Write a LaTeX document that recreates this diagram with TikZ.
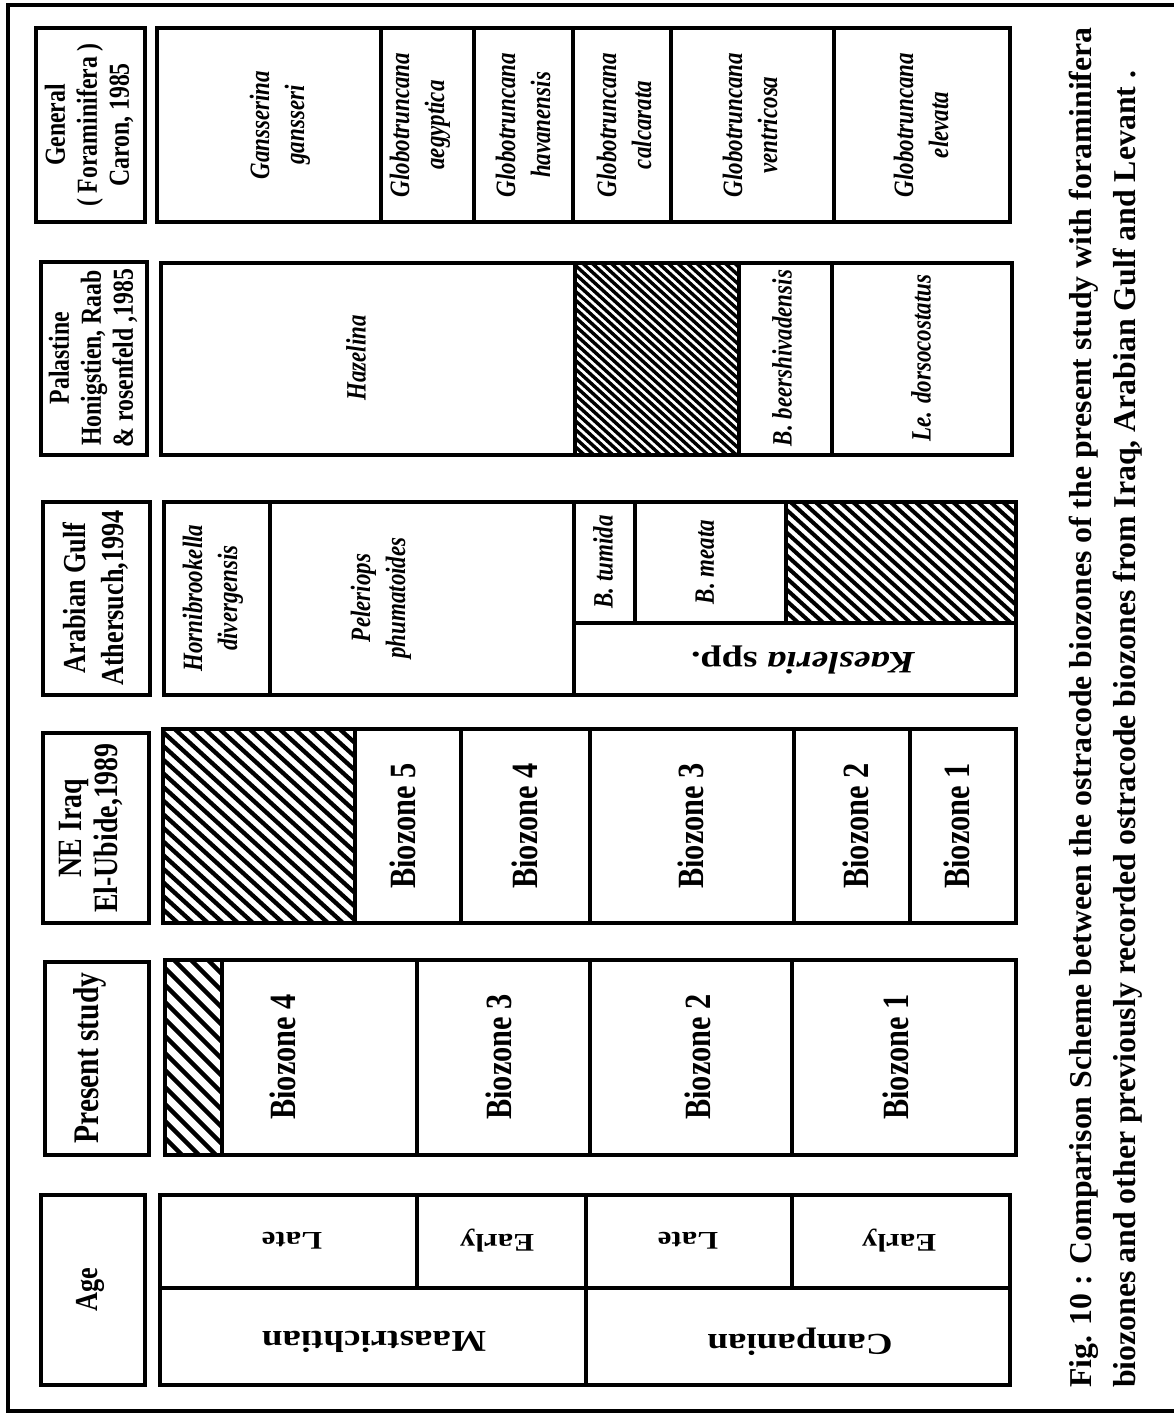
\documentclass[tikz,border=0pt]{standalone}
\usepackage{fontspec}
\setmainfont{Liberation Serif}
\newcommand\fsz[2]{\fontsize{#1}{#2}\selectfont}
\newcommand\hatchzone[7]{%
 \begin{scope}
 \clip (#1,#2) rectangle (#3,#4);
 \pgfmathsetmacro\hzrun{(#4-#2)*#7}
 \pgfmathtruncatemacro\hzn{(#3-#1+\hzrun)/#5+2}
 \foreach \k in {0,...,\hzn}{
   \pgfmathsetmacro\hzx{#1-\hzrun+\k*#5}
   \draw[line width=#6] (\hzx,#2) -- (\hzx+\hzrun,#4);
 }
 \end{scope}}
\tikzset{
 ln/.style={line width=4.5pt},
 vt/.style={yscale=0.82, rotate=90, align=center, inner sep=0pt},
 ut/.style={yscale=0.82, rotate=180, align=center, inner sep=0pt},
 bz/.style={vt, font=\fsz{37}{44}\bfseries},
 spc/.style={vt, font=\fsz{28}{35}\bfseries\itshape},
 agetxt/.style={ut, font=\fsz{31}{36}\bfseries},
 stagetxt/.style={ut, font=\fsz{37}{42}\bfseries},
 captxt/.style={rotate=90, anchor=west, inner sep=0pt, font=\fsz{31.8}{38}\bfseries},
}
\begin{document}
\begin{tikzpicture}[x=1pt, y=-1pt]
\useasboundingbox (0,0) rectangle (1174,1414);
% outer frame
\draw[line width=4.5pt] (1190,5) -- (8,5) -- (8,1411) -- (1190,1411);

% hatches
\hatchzone{575}{263}{739}{455}{9.5}{3.4pt}{1.1}
\hatchzone{786}{502}{1016}{623}{12.5}{4pt}{1.1}
\hatchzone{163}{729}{355}{923}{15}{4.3pt}{1.1}
\hatchzone{165}{960}{222}{1155}{17}{4.5pt}{1.0}

% ---- Row: General / Caron
\draw[ln] (36,28) rectangle (145,222);
\draw[ln] (157,28) rectangle (1010,222);
\foreach \xx in {381,474,573,671,834} \draw[ln] (\xx,28) -- (\xx,222);
\node[vt, font=\fsz{29}{32}\bfseries] (hC) at (89,125) {General\\( Foraminifera )\\Caron, 1985};
\node[spc] (c1) at (280,125) {Gansserina\\gansseri};
\node[spc] (c2) at (420,125) {Globotruncana\\aegyptica};
\node[spc] (c3) at (523,125) {Globotruncana\\havanensis};
\node[spc] (c4) at (624,125) {Globotruncana\\calcarata};
\node[spc] (c5) at (750,125) {Globotruncana\\ventricosa};
\node[spc] (c6) at (921,125) {Globotruncana\\elevata};

% ---- Row: Palastine
\draw[ln] (41,262) rectangle (147,455);
\draw[ln] (161,263) rectangle (1012,455);
\foreach \xx in {575,739,832} \draw[ln] (\xx,263) -- (\xx,455);
\node[vt, font=\fsz{29}{32}\bfseries] (hP) at (93,358) {Palastine\\Honigstien, Raab\\\& rosenfeld ,1985};
\node[spc] (p1) at (356,358) {Hazelina};
\node[spc] (p2) at (782,358) {B. beershivadensis};
\node[spc] (p3) at (921,358) {Le. dorsocostatus};

% ---- Row: Arabian Gulf
\draw[ln] (43,502) rectangle (150,695);
\draw[ln] (164,502) rectangle (1016,695);
\draw[ln] (270,502) -- (270,695);
\draw[ln] (574,502) -- (574,695);
\draw[ln] (574,623) -- (1016,623);
\draw[ln] (635,502) -- (635,623);
\draw[ln] (786,502) -- (786,623);
\node[vt, font=\fsz{32}{38}\bfseries] (hA) at (96,598) {Arabian Gulf\\Athersuch,1994};
\node[spc] (a1) at (213,598) {Hornibrookella\\divergensis};
\node[spc] (a2) at (381,598) {Peleriops\\phumatoides};
\node[spc] (a3) at (603,562) {B. tumida};
\node[spc] (a4) at (705,562) {B. meata};
\node[ut, font=\fsz{38}{44}\bfseries] (a5) at (803,660) {\textit{Kaesleria} spp.};

% ---- Row: NE Iraq
\draw[ln] (43,733) rectangle (149,923);
\draw[ln] (163,729) rectangle (1016,923);
\foreach \xx in {355,461,590,794,910} \draw[ln] (\xx,729) -- (\xx,923);
\node[vt, font=\fsz{34}{36}\bfseries] (hN) at (91,828) {NE Iraq\\El-Ubide,1989};
\node[bz] (n5) at (403,826) {Biozone 5};
\node[bz] (n4) at (525,826) {Biozone 4};
\node[bz] (n3) at (691,826) {Biozone 3};
\node[bz] (n2) at (856,826) {Biozone 2};
\node[bz] (n1) at (957,826) {Biozone 1};

% ---- Row: Present study
\draw[ln] (45,962) rectangle (149,1155);
\draw[ln] (165,960) rectangle (1016,1155);
\foreach \xx in {222,417,590,792} \draw[ln] (\xx,960) -- (\xx,1155);
\node[vt, font=\fsz{36}{40}\bfseries] (hS) at (90,1058) {Present study};
\node[bz] (s4) at (283,1057) {Biozone 4};
\node[bz] (s3) at (499,1057) {Biozone 3};
\node[bz] (s2) at (698,1057) {Biozone 2};
\node[bz] (s1) at (896,1057) {Biozone 1};

% ---- Row: Age
\draw[ln] (41,1195) rectangle (145,1385);
\draw[ln] (160,1195) rectangle (1010,1385);
\draw[ln] (160,1288) -- (1010,1288);
\draw[ln] (417,1195) -- (417,1288);
\draw[ln] (586,1195) -- (586,1385);
\draw[ln] (792,1195) -- (792,1288);
\node[vt, font=\fsz{32}{36}\bfseries] (hG) at (90,1290) {Age};
\node[agetxt] (g1) at (292,1241) {Late};
\node[agetxt] (g2) at (497,1241) {Early};
\node[agetxt] (g3) at (688,1241) {Late};
\node[agetxt] (g4) at (899,1241) {Early};
\node[stagetxt] (g5) at (374,1342) {Maastrichtian};
\node[stagetxt] (g6) at (800,1342) {Campanian};

% ---- Caption
\node[captxt] (cap1) at (1084,1388) {Fig. 10 : Comparison Scheme between the ostracode biozones of the present study with foraminifera};
\node[captxt] (cap2) at (1128,1388) {biozones and other previously recorded ostracode biozones from Iraq, Arabian Gulf and Levant .};
\end{tikzpicture}
\end{document}
